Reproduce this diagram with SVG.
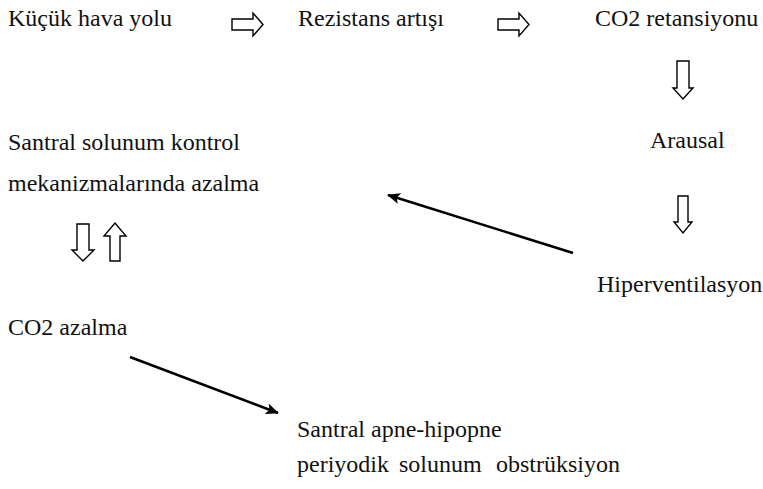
<svg xmlns="http://www.w3.org/2000/svg" width="763" height="489" viewBox="0 0 763 489">
  <style>
    .lbl { font-size: 24px; fill: #111; }
    .hollow { fill: #fff; stroke: #000; stroke-width: 1.4; stroke-linejoin: miter; }
    .link { stroke: #000; stroke-width: 2.6; fill: none; }
  </style>
  <defs>
    <marker id="head" markerUnits="userSpaceOnUse" markerWidth="14" markerHeight="12" refX="12" refY="5.5" orient="auto">
      <path d="M0,0 L13,5.5 L0,11 L3,5.5 z" fill="#000"/>
    </marker>
    <!-- block arrow pointing right, origin at shaft's left-top -->
    <polygon id="blockRight" points="0,6 21,6 21,0 31,11.5 21,23 21,17 0,17"/>
  </defs>

  <rect width="763" height="489" fill="#fff"/>

  <g id="labels" font-family="Liberation Serif">
    <g id="node-kucuk-hava-yolu">
      <text class="lbl" font-family="Liberation Serif" x="8" y="26">Küçük hava yolu</text>
    </g>
    <g id="node-rezistans">
      <text class="lbl" font-family="Liberation Serif" x="298" y="26">Rezistans artışı</text>
    </g>
    <g id="node-co2-retansiyonu">
      <text class="lbl" font-family="Liberation Serif" x="595" y="26">CO2 retansiyonu</text>
    </g>
    <g id="node-arausal">
      <text class="lbl" font-family="Liberation Serif" x="650" y="148">Arausal</text>
    </g>
    <g id="node-hiperventilasyon">
      <text class="lbl" font-family="Liberation Serif" x="597" y="292">Hiperventilasyon</text>
    </g>
    <g id="node-santral-kontrol">
      <text class="lbl" font-family="Liberation Serif" x="8" y="150">Santral solunum kontrol</text>
      <text class="lbl" font-family="Liberation Serif" x="8" y="191">mekanizmalarında azalma</text>
    </g>
    <g id="node-co2-azalma">
      <text class="lbl" font-family="Liberation Serif" x="8" y="335">CO2 azalma</text>
    </g>
    <g id="node-santral-apne">
      <text class="lbl" font-family="Liberation Serif" x="297" y="437">Santral apne-hipopne</text>
      <text class="lbl" font-family="Liberation Serif" x="297" y="472">periyodik <tspan x="399">solunum </tspan><tspan x="496">obstrüksiyon</tspan></text>
    </g>
  </g>

  <g id="connectors">
    <!-- hollow block arrows along the top row -->
    <use href="#blockRight" class="hollow" transform="translate(232,13)"/>
    <use href="#blockRight" class="hollow" transform="translate(498,13)"/>
    <!-- hollow block arrows down the right column -->
    <polygon class="hollow" points="677,61 689,61 689,88 693,88 683,99 673,88 677,88"/>
    <polygon class="hollow" points="678,196 688,196 688,222 692,222 683,233 674,222 678,222"/>
    <!-- down / up pair on the left -->
    <polygon class="hollow" points="77,224 89,224 89,250 94,250 83,261 72,250 77,250"/>
    <polygon class="hollow" points="110,261 120,261 120,236 126,236 115,223 104,236 110,236"/>
    <!-- straight arrows -->
    <line class="link" x1="573" y1="253" x2="388" y2="195" marker-end="url(#head)"/>
    <line class="link" x1="130" y1="357" x2="278" y2="413" marker-end="url(#head)"/>
  </g>
</svg>
